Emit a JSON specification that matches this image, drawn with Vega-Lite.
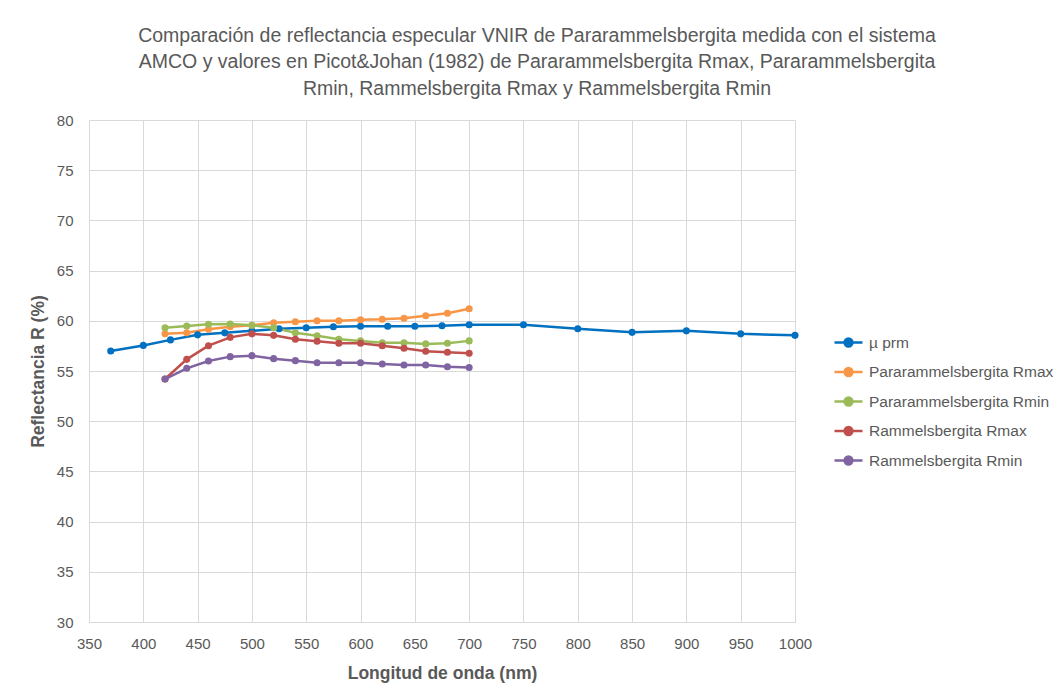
{
  "$schema": "https://vega.github.io/schema/vega-lite/v6.json",
  "width": 706,
  "height": 502,
  "autosize": {"type": "none"},
  "padding": {"left": 89, "top": 120, "right": 264, "bottom": 71},
  "background": "white",
  "title": {
    "text": ["Comparación de reflectancia especular VNIR de Pararammelsbergita medida con el sistema", "AMCO y valores en Picot&Johan (1982) de Pararammelsbergita Rmax, Pararammelsbergita", "Rmin, Rammelsbergita Rmax y Rammelsbergita Rmin"],
    "font": "Liberation Sans",
    "fontSize": 19.5,
    "fontWeight": "normal",
    "color": "#595959",
    "lineHeight": 26.5,
    "anchor": "middle",
    "dx": 95,
    "offset": 14
  },
  "data": {
    "values": [
      {"serie": "µ prm", "nm": 370, "R": 57.0},
      {"serie": "µ prm", "nm": 400, "R": 57.55},
      {"serie": "µ prm", "nm": 425, "R": 58.1},
      {"serie": "µ prm", "nm": 450, "R": 58.6},
      {"serie": "µ prm", "nm": 475, "R": 58.8},
      {"serie": "µ prm", "nm": 500, "R": 59.0},
      {"serie": "µ prm", "nm": 525, "R": 59.2},
      {"serie": "µ prm", "nm": 550, "R": 59.3},
      {"serie": "µ prm", "nm": 575, "R": 59.4},
      {"serie": "µ prm", "nm": 600, "R": 59.45},
      {"serie": "µ prm", "nm": 625, "R": 59.45},
      {"serie": "µ prm", "nm": 650, "R": 59.45},
      {"serie": "µ prm", "nm": 675, "R": 59.5},
      {"serie": "µ prm", "nm": 700, "R": 59.6},
      {"serie": "µ prm", "nm": 750, "R": 59.6},
      {"serie": "µ prm", "nm": 800, "R": 59.2},
      {"serie": "µ prm", "nm": 850, "R": 58.85},
      {"serie": "µ prm", "nm": 900, "R": 59.0},
      {"serie": "µ prm", "nm": 950, "R": 58.7},
      {"serie": "µ prm", "nm": 1000, "R": 58.55},
      {"serie": "Pararammelsbergita Rmax", "nm": 420, "R": 58.7},
      {"serie": "Pararammelsbergita Rmax", "nm": 440, "R": 58.8},
      {"serie": "Pararammelsbergita Rmax", "nm": 460, "R": 59.15},
      {"serie": "Pararammelsbergita Rmax", "nm": 480, "R": 59.4},
      {"serie": "Pararammelsbergita Rmax", "nm": 500, "R": 59.55},
      {"serie": "Pararammelsbergita Rmax", "nm": 520, "R": 59.8},
      {"serie": "Pararammelsbergita Rmax", "nm": 540, "R": 59.9},
      {"serie": "Pararammelsbergita Rmax", "nm": 560, "R": 60.0},
      {"serie": "Pararammelsbergita Rmax", "nm": 580, "R": 60.0},
      {"serie": "Pararammelsbergita Rmax", "nm": 600, "R": 60.1},
      {"serie": "Pararammelsbergita Rmax", "nm": 620, "R": 60.15},
      {"serie": "Pararammelsbergita Rmax", "nm": 640, "R": 60.25},
      {"serie": "Pararammelsbergita Rmax", "nm": 660, "R": 60.5},
      {"serie": "Pararammelsbergita Rmax", "nm": 680, "R": 60.75},
      {"serie": "Pararammelsbergita Rmax", "nm": 700, "R": 61.2},
      {"serie": "Pararammelsbergita Rmin", "nm": 420, "R": 59.3},
      {"serie": "Pararammelsbergita Rmin", "nm": 440, "R": 59.48},
      {"serie": "Pararammelsbergita Rmin", "nm": 460, "R": 59.65},
      {"serie": "Pararammelsbergita Rmin", "nm": 480, "R": 59.68},
      {"serie": "Pararammelsbergita Rmin", "nm": 500, "R": 59.55},
      {"serie": "Pararammelsbergita Rmin", "nm": 520, "R": 59.3},
      {"serie": "Pararammelsbergita Rmin", "nm": 540, "R": 58.8},
      {"serie": "Pararammelsbergita Rmin", "nm": 560, "R": 58.5},
      {"serie": "Pararammelsbergita Rmin", "nm": 580, "R": 58.16},
      {"serie": "Pararammelsbergita Rmin", "nm": 600, "R": 58.0},
      {"serie": "Pararammelsbergita Rmin", "nm": 620, "R": 57.82},
      {"serie": "Pararammelsbergita Rmin", "nm": 640, "R": 57.82},
      {"serie": "Pararammelsbergita Rmin", "nm": 660, "R": 57.7},
      {"serie": "Pararammelsbergita Rmin", "nm": 680, "R": 57.76},
      {"serie": "Pararammelsbergita Rmin", "nm": 700, "R": 58.0},
      {"serie": "Rammelsbergita Rmax", "nm": 420, "R": 54.2},
      {"serie": "Rammelsbergita Rmax", "nm": 440, "R": 56.16},
      {"serie": "Rammelsbergita Rmax", "nm": 460, "R": 57.52},
      {"serie": "Rammelsbergita Rmax", "nm": 480, "R": 58.35},
      {"serie": "Rammelsbergita Rmax", "nm": 500, "R": 58.7},
      {"serie": "Rammelsbergita Rmax", "nm": 520, "R": 58.55},
      {"serie": "Rammelsbergita Rmax", "nm": 540, "R": 58.16},
      {"serie": "Rammelsbergita Rmax", "nm": 560, "R": 57.96},
      {"serie": "Rammelsbergita Rmax", "nm": 580, "R": 57.76},
      {"serie": "Rammelsbergita Rmax", "nm": 600, "R": 57.76},
      {"serie": "Rammelsbergita Rmax", "nm": 620, "R": 57.52},
      {"serie": "Rammelsbergita Rmax", "nm": 640, "R": 57.26},
      {"serie": "Rammelsbergita Rmax", "nm": 660, "R": 56.96},
      {"serie": "Rammelsbergita Rmax", "nm": 680, "R": 56.86},
      {"serie": "Rammelsbergita Rmax", "nm": 700, "R": 56.76},
      {"serie": "Rammelsbergita Rmin", "nm": 420, "R": 54.2},
      {"serie": "Rammelsbergita Rmin", "nm": 440, "R": 55.27},
      {"serie": "Rammelsbergita Rmin", "nm": 460, "R": 56.0},
      {"serie": "Rammelsbergita Rmin", "nm": 480, "R": 56.43},
      {"serie": "Rammelsbergita Rmin", "nm": 500, "R": 56.53},
      {"serie": "Rammelsbergita Rmin", "nm": 520, "R": 56.23},
      {"serie": "Rammelsbergita Rmin", "nm": 540, "R": 56.03},
      {"serie": "Rammelsbergita Rmin", "nm": 560, "R": 55.83},
      {"serie": "Rammelsbergita Rmin", "nm": 580, "R": 55.83},
      {"serie": "Rammelsbergita Rmin", "nm": 600, "R": 55.83},
      {"serie": "Rammelsbergita Rmin", "nm": 620, "R": 55.7},
      {"serie": "Rammelsbergita Rmin", "nm": 640, "R": 55.6},
      {"serie": "Rammelsbergita Rmin", "nm": 660, "R": 55.6},
      {"serie": "Rammelsbergita Rmin", "nm": 680, "R": 55.43},
      {"serie": "Rammelsbergita Rmin", "nm": 700, "R": 55.35}
    ]
  },
  "mark": {"type": "line", "strokeWidth": 2.5, "point": {"filled": true, "size": 50, "opacity": 1}},
  "encoding": {
    "x": {
      "field": "nm", "type": "quantitative",
      "scale": {"domain": [350, 1000], "nice": false, "zero": false},
      "axis": {
        "title": "Longitud de onda (nm)",
        "values": [350, 400, 450, 500, 550, 600, 650, 700, 750, 800, 850, 900, 950, 1000],
        "format": "d",
        "labelFlush": false, "labelOverlap": false, "labelBound": false,
        "grid": true, "gridColor": "#d9d9d9", "gridWidth": 1,
        "domain": true, "domainColor": "#d9d9d9",
        "ticks": false, "labelPadding": 14,
        "labelFont": "Liberation Sans", "labelFontSize": 15, "labelColor": "#595959",
        "titleFont": "Liberation Sans", "titleFontSize": 17.5, "titleFontWeight": "bold", "titleColor": "#595959",
        "titlePadding": 13
      }
    },
    "y": {
      "field": "R", "type": "quantitative",
      "scale": {"domain": [30, 80], "nice": false, "zero": false},
      "axis": {
        "title": "Reflectancia R (%)",
        "values": [30, 35, 40, 45, 50, 55, 60, 65, 70, 75, 80],
        "labelFlush": false, "labelOverlap": false,
        "grid": true, "gridColor": "#d9d9d9", "gridWidth": 1,
        "domain": false, "ticks": false, "labelPadding": 16,
        "labelFont": "Liberation Sans", "labelFontSize": 15, "labelColor": "#595959",
        "titleFont": "Liberation Sans", "titleFontSize": 17.5, "titleFontWeight": "bold", "titleColor": "#595959",
        "titlePadding": 9
      }
    },
    "color": {
      "field": "serie", "type": "nominal",
      "sort": ["µ prm", "Pararammelsbergita Rmax", "Pararammelsbergita Rmin", "Rammelsbergita Rmax", "Rammelsbergita Rmin"],
      "scale": {
        "domain": ["µ prm", "Pararammelsbergita Rmax", "Pararammelsbergita Rmin", "Rammelsbergita Rmax", "Rammelsbergita Rmin"],
        "range": ["#0070C0", "#F79646", "#9BBB59", "#C0504D", "#8064A2"]
      },
      "legend": {
        "title": null,
        "orient": "none",
        "legendX": 744,
        "legendY": 207,
        "symbolType": "M-1,0L1,0M-0.28,0A0.28,0.28 0 1,1 0.28,0A0.28,0.28 0 1,1 -0.28,0Z",
        "symbolSize": 784,
        "symbolStrokeWidth": 2.5,
        "labelFont": "Liberation Sans", "labelFontSize": 15.5, "labelColor": "#595959",
        "labelLimit": 400,
        "labelOffset": 5,
        "rowPadding": 4.5,
        "encode": {"symbols": {"update": {"fill": {"scale": "color", "field": "value"}}}}
      }
    }
  },
  "config": {"view": {"stroke": null}}
}
